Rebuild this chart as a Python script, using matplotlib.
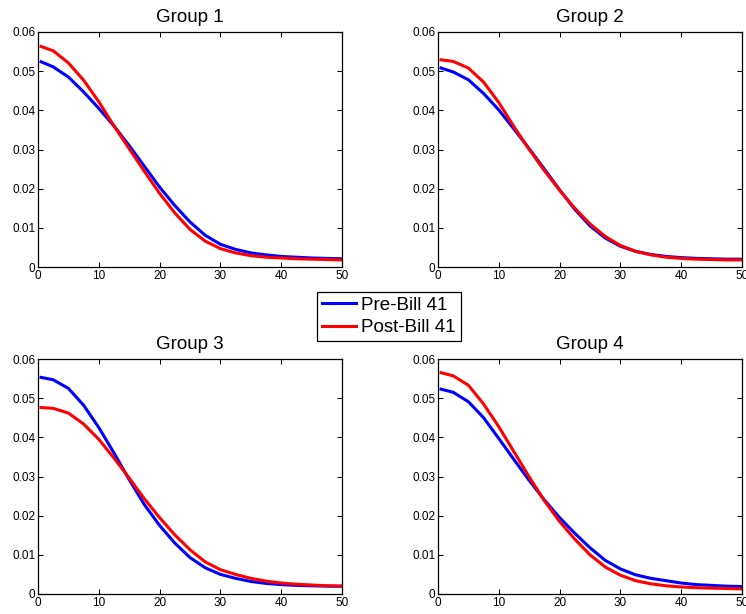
import matplotlib
matplotlib.use("Agg")
import matplotlib.pyplot as plt
from matplotlib.ticker import FixedLocator, FixedFormatter

plt.rcParams['font.family'] = ['Liberation Sans', 'DejaVu Sans']

# ---- data ----
x = [0.5, 2.5, 5, 7.5, 10, 12.5, 15, 17.5, 20, 22.5, 25, 27.5, 30,
     32.5, 35, 37.5, 40, 42.5, 45, 47.5, 50]

titles = ["Group 1", "Group 2", "Group 3", "Group 4"]
series_labels = ["Pre-Bill 41", "Post-Bill 41"]

g1_pre = [0.0524, 0.0511, 0.0485, 0.0447, 0.0405, 0.0360, 0.0310, 0.0257, 0.0204,
          0.0157, 0.0115, 0.0081, 0.0058, 0.0045, 0.0036, 0.0031, 0.0027, 0.0025,
          0.0023, 0.0022, 0.0021]
g1_post = [0.0563, 0.0552, 0.0521, 0.0477, 0.0422, 0.0360, 0.0302, 0.0244, 0.0188,
           0.0138, 0.0096, 0.0066, 0.0047, 0.0036, 0.0029, 0.0025, 0.0023, 0.0021,
           0.0020, 0.0019, 0.0018]

g2_pre = [0.0508, 0.0498, 0.0478, 0.0443, 0.0401, 0.0352, 0.0302, 0.0250, 0.0197,
          0.0147, 0.0105, 0.0074, 0.0053, 0.0040, 0.0032, 0.0027, 0.0024, 0.0022,
          0.0021, 0.0020, 0.0020]
g2_post = [0.0529, 0.0525, 0.0508, 0.0472, 0.0420, 0.0358, 0.0300, 0.0246, 0.0196,
           0.0150, 0.0110, 0.0078, 0.0055, 0.0040, 0.0031, 0.0025, 0.0022, 0.0020,
           0.0019, 0.0018, 0.0018]

g3_pre = [0.0553, 0.0547, 0.0525, 0.0482, 0.0425, 0.0360, 0.0292, 0.0228, 0.0175,
          0.0130, 0.0093, 0.0067, 0.0050, 0.0040, 0.0032, 0.0027, 0.0024, 0.0022,
          0.0021, 0.0020, 0.0020]
g3_post = [0.0476, 0.0474, 0.0462, 0.0434, 0.0395, 0.0347, 0.0296, 0.0243, 0.0195,
           0.0151, 0.0113, 0.0082, 0.0062, 0.0050, 0.0040, 0.0033, 0.0028, 0.0025,
           0.0023, 0.0021, 0.0020]

g4_pre = [0.0523, 0.0515, 0.0491, 0.0450, 0.0397, 0.0343, 0.0290, 0.0240, 0.0195,
          0.0155, 0.0118, 0.0086, 0.0064, 0.0049, 0.0040, 0.0034, 0.0028, 0.0024,
          0.0022, 0.0020, 0.0019]
g4_post = [0.0565, 0.0557, 0.0533, 0.0485, 0.0427, 0.0363, 0.0299, 0.0238, 0.0185,
           0.0140, 0.0100, 0.0069, 0.0048, 0.0034, 0.0026, 0.0021, 0.0018, 0.0016,
           0.0015, 0.0014, 0.0013]

pre_series = [g1_pre, g2_pre, g3_pre, g4_pre]
post_series = [g1_post, g2_post, g3_post, g4_post]

xticks = [0, 10, 20, 30, 40, 50]
xticklabels = ["0", "10", "20", "30", "40", "50"]
yticks = [0, 0.01, 0.02, 0.03, 0.04, 0.05, 0.06]
yticklabels = ["0", "0.01", "0.02", "0.03", "0.04", "0.05", "0.06"]

# ---- figure ----
W, H = 746, 614
fig = plt.figure(figsize=(W / 100, H / 100), dpi=100)

# axes rectangles in pixels: (left, top, right, bottom)
rects = [(38, 32, 342, 267), (438, 32, 742, 267),
         (38, 359, 342, 594), (438, 359, 742, 594)]

lines = []
for i, (l, t, r, b) in enumerate(rects):
    ax = fig.add_axes([l / W, 1 - b / H, (r - l) / W, (b - t) / H])
    lp, = ax.plot(x, pre_series[i], color=(0, 0, 1), lw=2.2,
                  solid_joinstyle='round', label=series_labels[0])
    lq, = ax.plot(x, post_series[i], color=(1, 0, 0), lw=2.2,
                  solid_joinstyle='round', label=series_labels[1])
    if i == 0:
        lines = [lp, lq]
    ax.set_xlim(0, 50)
    ax.set_ylim(0, 0.06)
    ax.xaxis.set_major_locator(FixedLocator(xticks))
    ax.xaxis.set_major_formatter(FixedFormatter(xticklabels))
    ax.yaxis.set_major_locator(FixedLocator(yticks))
    ax.yaxis.set_major_formatter(FixedFormatter(yticklabels))
    ax.tick_params(direction='in', top=True, right=True, length=3.5, width=0.75,
                   labelsize=8.5, pad=2, colors='black')
    for s in ax.spines.values():
        s.set_linewidth(0.9)
        s.set_color('black')
    ax.set_title(titles[i], fontsize=13.5, pad=7)

leg = fig.legend(lines, series_labels, loc='center',
                 bbox_to_anchor=(389 / W, 1 - 316.5 / H),
                 fontsize=13.5, frameon=True, fancybox=False, shadow=False,
                 borderpad=0.25, handlelength=1.8, handletextpad=0.3,
                 labelspacing=0.3, borderaxespad=0)
leg.get_frame().set_edgecolor('black')
leg.get_frame().set_linewidth(0.9)
leg.get_frame().set_alpha(1)

fig.savefig("out.png", dpi=100)
